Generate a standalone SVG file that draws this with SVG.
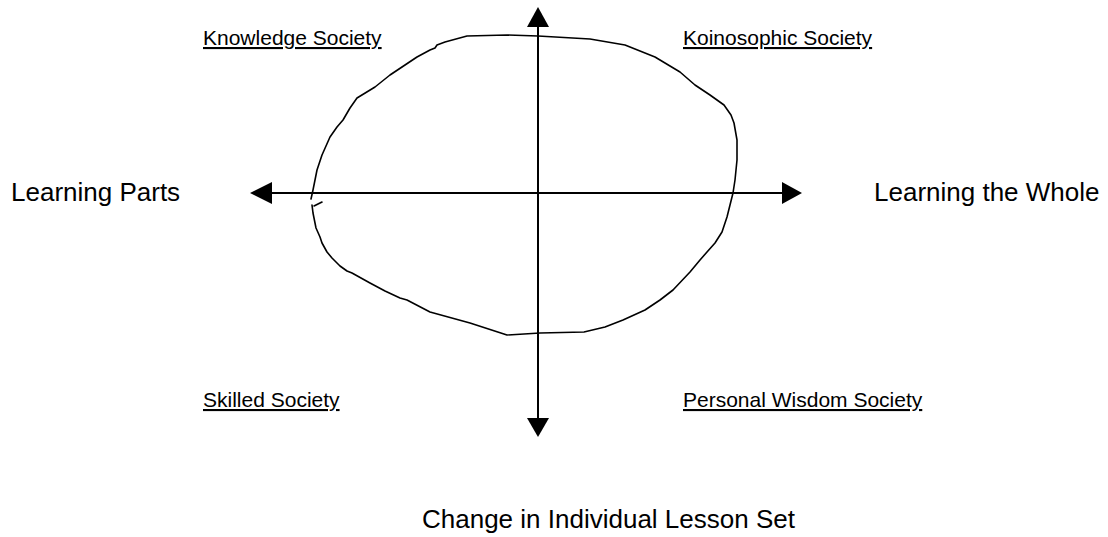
<svg xmlns="http://www.w3.org/2000/svg" width="1108" height="537" viewBox="0 0 1108 537">
<style>
.big{font-family:"Liberation Sans",Arial,sans-serif;font-size:26px;fill:#000}
.small{font-family:"Liberation Sans",Arial,sans-serif;font-size:21px;fill:#000;text-decoration:underline}
.axis{stroke:#000;stroke-width:2;fill:none}
.head{fill:#000}
.blob{stroke:#000;stroke-width:1.6;fill:none;stroke-linejoin:round;stroke-linecap:round}
</style>
<rect width="1108" height="537" fill="#fff"/>
<g id="connectors">
<line class="axis" x1="268" y1="193" x2="786" y2="193"/>
<polygon class="head" points="250,193 272,182 272,204"/>
<polygon class="head" points="802,193 782,182 782,204"/>
<line class="axis" x1="538" y1="24" x2="538" y2="420"/>
<polygon class="head" points="538,7 527,27 549,27"/>
<polygon class="head" points="538,437 527,418 549,418"/>
</g>
<g id="blob">
<path class="blob" d="M311,199 L313,190 L315,180 L317,170 L322,155 L330,137 L337,127 L343,120 L350,108 L357,98 L375,87 L390,75 L405,65 L417,57 L430,50 L435,48 L437,45 L445,42 L467,36 L507,35 L538,36 L590,39 L625,45 L655,57 L680,72 L695,85 L710,95 L724,105 L731,115 L734,123 L737,140 L737,160 L735,180 L733,193 L730,205 L727,217 L722,232 L715,243 L707,252 L700,260 L690,272 L673,290 L660,300 L645,310 L623,320 L605,327 L584,332 L540,333 L507,335 L470,323 L430,312 L407,300 L400,298 L385,291 L370,283 L352,273 L347,271 L340,266 L332,258 L327,252 L322,243 L320,237 L316,228 L313,213 L312,205"/>
<path class="blob" d="M314,206 L322,202"/>
</g>
<g id="knowledge"><text class="small" x="203" y="45">Knowledge Society</text></g>
<g id="koinosophic"><text class="small" x="683" y="45">Koinosophic Society</text></g>
<g id="skilled"><text class="small" x="203" y="407">Skilled Society</text></g>
<g id="personal"><text class="small" x="683" y="407">Personal Wisdom Society</text></g>
<g id="parts"><text class="big" x="11" y="201">Learning Parts</text></g>
<g id="whole"><text class="big" x="874" y="201">Learning the Whole</text></g>
<g id="change"><text class="big" x="422" y="528">Change in Individual Lesson Set</text></g>
</svg>
